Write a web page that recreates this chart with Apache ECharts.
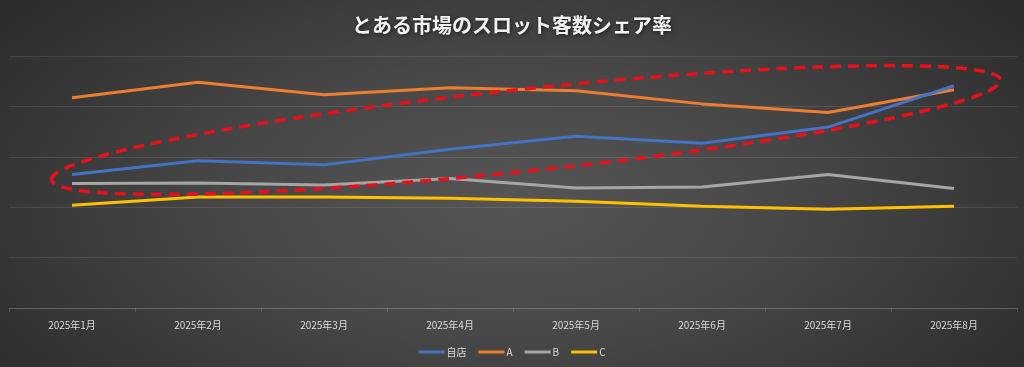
<!DOCTYPE html>
<html><head><meta charset="utf-8">
<script src="https://cdn.jsdelivr.net/npm/echarts@6/dist/echarts.min.js"></script>
<style>html,body{margin:0;padding:0;background:#333}#c{width:1024px;height:367px;background:radial-gradient(ellipse 62% 85% at 50% 55%, #555555 0%, #474747 45%, #2c2c2c 100%)}</style>
</head><body><div id="c"></div>
<script>
const categories = ['2025年1月','2025年2月','2025年3月','2025年4月','2025年5月','2025年6月','2025年7月','2025年8月'];
const seriesNames = ['自店','A','B','C'];
const own = [26.5, 29.2, 28.4, 31.5, 34.1, 32.7, 35.9, 44.1];
const compA = [41.7, 44.8, 42.3, 43.7, 43.1, 40.5, 38.8, 43.3];
const compB = [24.7, 24.8, 24.4, 25.7, 23.8, 24.0, 26.5, 23.7];
const compC = [20.4, 22.0, 22.0, 21.8, 21.2, 20.2, 19.6, 20.2];
const colors = ['#4472c4', '#ed7d31', '#a5a5a5', '#ffc000'];
const values = [own, compA, compB, compC];

const chart = echarts.init(document.getElementById('c'));
chart.setOption({
  animation: false,
  backgroundColor: 'transparent',
  title: {
    text: 'とある市場のスロット客数シェア率',
    left: 'center', top: 10,
    textStyle: {color: '#f2f2f2', fontSize: 20, fontWeight: 'bold', fontFamily: 'Noto Sans CJK JP',
      textShadowColor: 'rgba(0,0,0,0.6)', textShadowBlur: 4, textShadowOffsetX: 1, textShadowOffsetY: 1}
  },
  legend: {
    bottom: 5, left: 'center', itemGap: 12,
    icon: 'rect', itemWidth: 26, itemHeight: 3,
    textStyle: {color: '#d9d9d9', fontSize: 10, fontFamily: 'Noto Sans CJK JP', padding: [0,0,0,-3]},
    data: seriesNames
  },
  grid: {left: 9, right: 7, top: 56, bottom: 59, containLabel: false},
  xAxis: {
    type: 'category', data: categories, boundaryGap: true,
    axisLine: {lineStyle: {color: 'rgba(255,255,255,0.13)', width: 1}},
    axisTick: {show: true, length: 4, lineStyle: {color: 'rgba(255,255,255,0.13)'}},
    axisLabel: {color: '#d9d9d9', fontSize: 10, fontFamily: 'Noto Sans CJK JP', margin: 12}
  },
  yAxis: {
    type: 'value', min: 0, max: 50, interval: 10,
    axisLabel: {show: false}, axisLine: {show: false}, axisTick: {show: false},
    splitLine: {lineStyle: {color: 'rgba(255,255,255,0.1)', width: 1}}
  },
  series: seriesNames.map((n, i) => ({
    name: n, type: 'line', data: values[i], symbol: 'none',
    lineStyle: {color: colors[i], width: 3}, itemStyle: {color: colors[i]}, z: 2 + (i === 0 ? 3 : 0)
  })),
  graphic: [{
    type: 'ellipse', z: 100,
    x: 526, y: 130, rotation: 6 * Math.PI / 180,
    shape: {cx: 0, cy: 0, rx: 477, ry: 41},
    style: {fill: 'none', stroke: '#e8101a', lineWidth: 3.5, lineDash: [11, 7]}
  }]
});
</script></body></html>
